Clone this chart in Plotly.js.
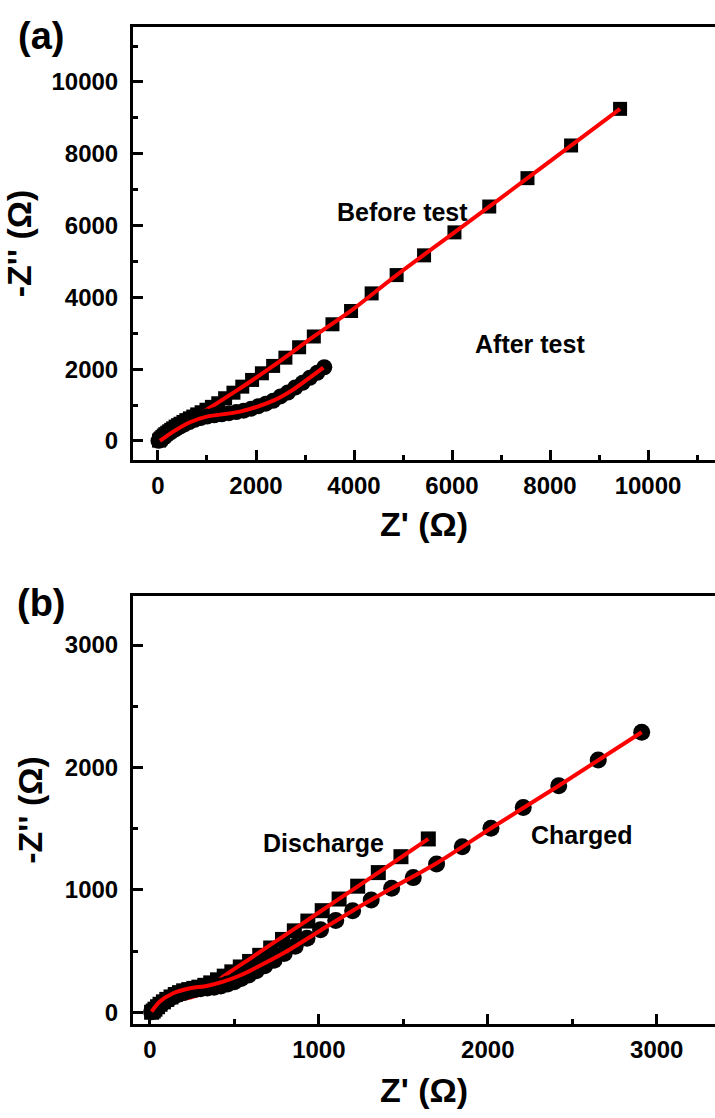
<!DOCTYPE html>
<html>
<head>
<meta charset="utf-8">
<script src="https://cdn.plot.ly/plotly-3.0.1.min.js"></script>
<style>html,body{margin:0;padding:0;background:#fff;}#chart{width:715px;height:1118px;}</style>
</head>
<body>
<div id="chart"></div>
<script>
// ---------- Panel (a) ----------
const aBeforeX = [9430, 8430, 7540, 6760, 6050, 5430, 4870, 4360, 3940, 3560, 3180, 2880, 2600, 2350, 2120, 1920, 1720, 1540, 1370, 1230, 1100, 990, 890, 800, 720, 650, 580, 520, 460, 410, 360, 310, 270, 230, 190, 150, 120, 90, 60, 40, 20];
const aBeforeY = [9250, 8230, 7320, 6530, 5810, 5170, 4620, 4110, 3620, 3250, 2910, 2610, 2320, 2090, 1885, 1700, 1513, 1345, 1190, 1050, 950, 870, 800, 740, 680, 630, 580, 530, 480, 440, 400, 350, 310, 270, 230, 190, 150, 110, 70, 40, 10];
const aBeforeFitX = [10, 150, 400, 700, 924, 1540, 2350, 3180, 3940, 4870, 6050, 7540, 9430];
const aBeforeFitY = [5, 175, 430, 660, 816, 1345, 2090, 2910, 3630, 4620, 5810, 7320, 9250];
const aAfterX = [3394, 3250, 3100, 2950, 2800, 2650, 2500, 2350, 2200, 2050, 1900, 1750, 1600, 1450, 1300, 1150, 1000, 870, 750, 640, 540, 450, 370, 300, 240, 180, 130, 90, 55, 30, 10];
const aAfterY = [2053, 1900, 1760, 1620, 1490, 1350, 1240, 1120, 1040, 970, 900, 845, 805, 775, 745, 715, 680, 640, 590, 525, 460, 400, 340, 280, 230, 170, 120, 80, 45, 20, 3];
const aAfterFitX = [40, 312, 653, 993, 1673, 2354, 2694, 3034, 3374];
const aAfterFitY = [0, 259, 521, 677, 816, 1123, 1373, 1699, 2042];

// ---------- Panel (b) ----------
const bDisX = [1648, 1486, 1352, 1230, 1120, 1020, 935, 855, 785, 715, 650, 590, 535, 485, 440, 400, 360, 325, 290, 260, 230, 200, 175, 150, 125, 100, 80, 60, 45, 30, 20, 10];
const bDisY = [1416, 1271, 1141, 1030, 925, 830, 745, 665, 595, 525, 465, 415, 370, 330, 295, 265, 240, 220, 205, 195, 185, 175, 160, 145, 125, 105, 85, 65, 45, 25, 10, 0];
const bDisFitX = [10, 60, 140, 240, 330, 434, 600, 800, 1000, 1200, 1400, 1648];
const bDisFitY = [5, 60, 100, 120, 170, 291, 445, 630, 815, 1000, 1185, 1416];
const bChgX = [2911, 2654, 2420, 2210, 2019, 1849, 1697, 1559, 1431, 1310, 1200, 1100, 1010, 930, 860, 795, 735, 680, 630, 585, 540, 500, 460, 420, 380, 340, 300, 265, 230, 200, 170, 140, 115, 90, 70, 50, 35, 20, 10];
const bChgY = [2288, 2061, 1851, 1672, 1503, 1353, 1212, 1100, 1013, 918, 830, 750, 675, 605, 540, 480, 425, 380, 340, 305, 275, 250, 230, 215, 205, 198, 192, 185, 175, 162, 148, 130, 110, 90, 70, 48, 30, 15, 5];
const bChgFitX = [10, 59, 138, 237, 336, 434, 533, 650, 800, 1000, 1200, 1431, 1700, 2019, 2420, 2911];
const bChgFitY = [5, 87, 155, 196, 215, 250, 300, 380, 490, 660, 830, 1013, 1220, 1503, 1851, 2288];

const RED = 'rgb(255,0,0)';
const FONT = 'Liberation Sans, Arial, sans-serif';

function markers(x, y, sym, size, xa, ya) {
  return {x: x, y: y, xaxis: xa, yaxis: ya, type: 'scatter', mode: 'markers',
    marker: {symbol: sym, size: size, color: '#000', line: {width: 0}}, showlegend: false, cliponaxis: true};
}
function fit(x, y, xa, ya) {
  return {x: x, y: y, xaxis: xa, yaxis: ya, type: 'scatter', mode: 'lines',
    line: {color: RED, width: 4, shape: 'spline', smoothing: 0.8}, showlegend: false};
}

const data = [
  markers(aBeforeX, aBeforeY, 'square', 14, 'x', 'y'),
  fit(aBeforeFitX, aBeforeFitY, 'x', 'y'),
  markers(aAfterX, aAfterY, 'circle', 16, 'x', 'y'),
  fit(aAfterFitX, aAfterFitY, 'x', 'y'),
  markers(bDisX, bDisY, 'square', 15, 'x2', 'y2'),
  fit(bDisFitX, bDisFitY, 'x2', 'y2'),
  markers(bChgX, bChgY, 'circle', 17, 'x2', 'y2'),
  fit(bChgFitX, bChgFitY, 'x2', 'y2')
];

const tickFont = {family: FONT, size: 24, color: '#000', weight: 'bold'};
const titleFont = {family: FONT, size: 34, color: '#000', weight: 'bold'};
const annFont = {family: FONT, size: 25, color: '#000', weight: 'bold'};

function axis(extra) {
  return Object.assign({
    showgrid: false, zeroline: false, showline: true, linewidth: 3, linecolor: '#000',
    ticks: 'inside', ticklen: 10, tickwidth: 3, tickcolor: '#000',
    tickfont: tickFont, fixedrange: true, tickformat: 'd', exponentformat: 'none'
  }, extra);
}

const layout = {
  width: 715, height: 1118,
  margin: {l: 133, r: 0, t: 27, b: 94},
  paper_bgcolor: '#fff', plot_bgcolor: '#fff',
  font: {family: FONT, color: '#000'},
  xaxis: axis({domain: [0, 1], anchor: 'y', range: [-510, 11367], dtick: 2000, tick0: 0, ticklabelstandoff: 2,
    minor: {ticks: 'inside', ticklen: 5, tickwidth: 3, tickcolor: '#000', dtick: 1000, tick0: 0, showgrid: false},
    mirror: true, title: {text: "Z' (Ω)", font: titleFont, standoff: 15}}),
  yaxis: axis({domain: [0.5657, 1], anchor: 'x', range: [-530, 11530], dtick: 2000, tick0: 0, ticklabelstandoff: 7,
    minor: {ticks: 'inside', ticklen: 5, tickwidth: 3, tickcolor: '#000', dtick: 1000, tick0: 0, showgrid: false},
    title: {text: "-Z'' (Ω)", font: titleFont, standoff: 12}}),
  xaxis2: axis({domain: [0, 1], anchor: 'y2', range: [-100, 3345], dtick: 1000, tick0: 0, ticklabelstandoff: 2,
    minor: {ticks: 'inside', ticklen: 5, tickwidth: 3, tickcolor: '#000', dtick: 500, tick0: 0, showgrid: false},
    mirror: true, title: {text: "Z' (Ω)", font: titleFont, standoff: 17}}),
  yaxis2: axis({domain: [0, 0.4293], anchor: 'x2', range: [-96, 3401], dtick: 1000, tick0: 0, ticklabelstandoff: 7,
    minor: {ticks: 'inside', ticklen: 5, tickwidth: 3, tickcolor: '#000', dtick: 500, tick0: 0, showgrid: false},
    title: {text: "-Z'' (Ω)", font: titleFont, standoff: 12}}),
  annotations: [
    {text: '(a)', xref: 'paper', yref: 'paper', x: -0.158, y: 0.991, xanchor: 'center', yanchor: 'middle', showarrow: false,
      font: {family: FONT, size: 38, color: '#000', weight: 'bold'}},
    {text: '(b)', xref: 'paper', yref: 'paper', x: -0.158, y: 0.4223, xanchor: 'center', yanchor: 'middle', showarrow: false,
      font: {family: FONT, size: 38, color: '#000', weight: 'bold'}},
    {text: 'Before test', xref: 'x', yref: 'y', x: 4980, y: 6379, showarrow: false, font: annFont},
    {text: 'After test', xref: 'x', yref: 'y', x: 7592, y: 2702, showarrow: false, font: annFont},
    {text: 'Discharge', xref: 'x2', yref: 'y2', x: 1030, y: 1383, showarrow: false, font: annFont},
    {text: 'Charged', xref: 'x2', yref: 'y2', x: 2552, y: 1450, showarrow: false, font: annFont}
  ]
};

Plotly.newPlot('chart', data, layout, {displayModeBar: false, staticPlot: true});
</script>
</body>
</html>
